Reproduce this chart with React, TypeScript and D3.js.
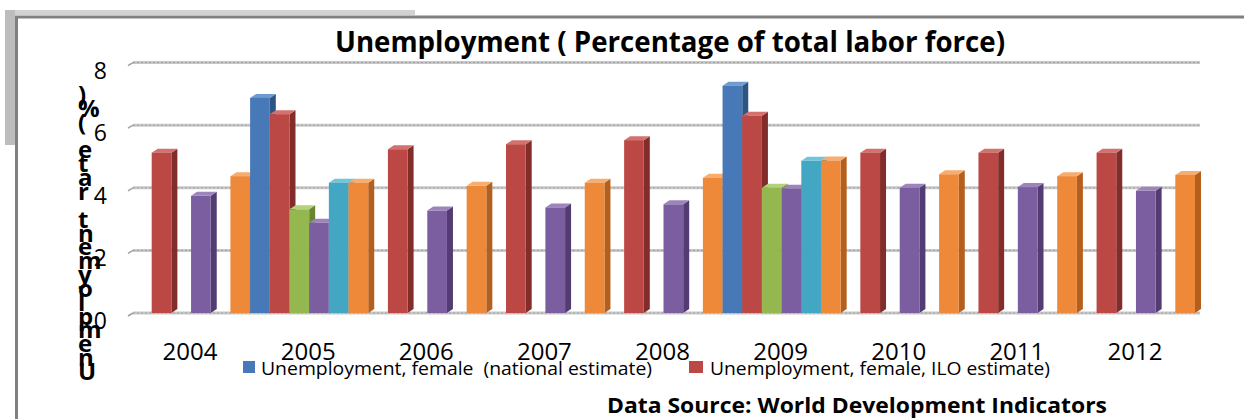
import React from 'react';
import * as d3 from 'd3';

const years = ['2004', '2005', '2006', '2007', '2008', '2009', '2010', '2011', '2012'];
const seriesKeys = ['femaleNational', 'femaleILO', 'maleNational', 'maleILO', 'totalNational', 'totalILO'];
const femaleNational = [null, 7.0, null, null, null, 7.39, null, null, null];
const femaleILO = [5.25, 6.48, 5.36, 5.52, 5.65, 6.43, 5.25, 5.25, 5.25];
const maleNational = [null, 3.44, null, null, null, 4.13, null, null, null];
const maleILO = [3.87, 3.01, 3.4, 3.5, 3.6, 4.1, 4.13, 4.15, 4.03];
const totalNational = [null, 4.29, null, null, null, 4.99, null, null, null];
const totalILO = [4.5, 4.29, 4.19, 4.29, 4.45, 5.0, 4.56, 4.5, 4.54];
const yTicks = [0, 2, 4, 6, 8];
const legendItems = [
  { label: 'Unemployment, female  (national estimate)', key: 'femaleNational' },
  { label: 'Unemployment, female, ILO estimate)', key: 'femaleILO' },
];
const titleText = 'Unemployment ( Percentage of total labor force)';
const yTitle = 'Unemployment rate (%)';
const sourceText = 'Data Source: World Development Indicators';

const seriesValues: Record<string, (number | null)[]> = {
  femaleNational, femaleILO, maleNational, maleILO, totalNational, totalILO,
};
const colors: Record<string, { front: string; side: string; top: string }> = {
  femaleNational: { front: '#4779b8', side: '#2c5585', top: '#6f9bd0' },
  femaleILO: { front: '#bb4845', side: '#832d2b', top: '#d4706d' },
  maleNational: { front: '#94b750', side: '#678632', top: '#b3d17a' },
  maleILO: { front: '#7b5e9f', side: '#533c72', top: '#9d84bd' },
  totalNational: { front: '#43a7c3', side: '#2a7a91', top: '#72c4da' },
  totalILO: { front: '#ee893a', side: '#b45f1e', top: '#f7ad6e' },
};

const FONT = '"Open Sans", "Liberation Sans", sans-serif';

export default function App() {
  const W = 1244, H = 419;
  const x0 = d3.scaleBand<string>().domain(years).range([132, 1195]).paddingInner(0).paddingOuter(0);
  const x1 = d3.scaleBand<string>().domain(seriesKeys).range([0, x0.bandwidth()]).padding(0);
  const y = d3.scaleLinear().domain([0, 8]).range([313, 62.6]);
  const dx = 6, dy = 4;
  const gridX0 = 133, gridX1 = 1200;

  const bars: JSX.Element[] = [];
  years.forEach((yr, i) => {
    seriesKeys.forEach((k) => {
      const v = seriesValues[k][i];
      if (v == null) return;
      const bx = (x0(yr) as number) + (x1(k) as number);
      const w = x1.bandwidth();
      const yt = y(v) + dy;
      const yb = y(0);
      const c = colors[k];
      bars.push(
        <g key={`${yr}-${k}`}>
          <polygon points={`${bx + w},${yt} ${bx + w + dx},${yt - dy} ${bx + w + dx},${yb - dy} ${bx + w},${yb}`} fill={c.side} />
          <polygon points={`${bx},${yt} ${bx + dx},${yt - dy} ${bx + w + dx},${yt - dy} ${bx + w},${yt}`} fill={c.top} />
          <rect x={bx} y={yt} width={w} height={yb - yt} fill={c.front} />
        </g>
      );
    });
  });

  const titleChars = yTitle.split('');
  const step = (380 - 103) / (titleChars.length - 1);

  return (
    <svg width={W} height={H} style={{ position: 'absolute', left: 0, top: 0, background: '#fff' }} fontFamily={FONT}>
      <rect x={0} y={0} width={W} height={H} fill="#fff" />
      {/* shadow frame */}
      <rect x={5} y={10} width={410} height={5} fill="#d2d2d2" />
      <rect x={5} y={10} width={10} height={135} fill="#bdbdbd" />
      {/* chart border */}
      <line x1={16.5} y1={16} x2={16.5} y2={H} stroke="#808080" strokeWidth={3} />
      <line x1={15} y1={17} x2={W} y2={17} stroke="#808080" strokeWidth={3} />

      {/* title */}
      <text x={335} y={52} fontSize={29} fontWeight="bold" textLength={670} lengthAdjust="spacingAndGlyphs" fill="#000">{titleText}</text>

      {/* gridlines */}
      {yTicks.map((t) => (
        <g key={t}>
          <line x1={gridX0} y1={y(t)} x2={gridX1} y2={y(t)} stroke="#c8c8c8" strokeWidth={3} />
          <line x1={gridX0} y1={y(t)} x2={gridX1} y2={y(t)} stroke="#a0a0a0" strokeWidth={1} strokeDasharray="2,2" />
          <line x1={128} y1={y(t) + 3} x2={gridX0} y2={y(t)} stroke="#a0a0a0" strokeWidth={1.5} />
        </g>
      ))}

      {bars}

      {/* y tick labels */}
      {yTicks.map((t) => (
        <text key={t} x={107} y={y(t) + 16} fontSize={23} textAnchor="end" fill="#000">{t}</text>
      ))}

      {/* stacked y title, bottom to top */}
      {titleChars.map((ch, i) => (
        <text key={i} x={78} y={380 - i * step} fontSize={24} fontWeight="bold" fill="#000" style={{ whiteSpace: 'pre' }}>{ch}</text>
      ))}

      {/* x labels */}
      {years.map((yr) => (
        <text key={yr} x={(x0(yr) as number) + x0.bandwidth() / 2 - 1} y={360} fontSize={24} textAnchor="middle" fill="#000">{yr}</text>
      ))}

      {/* legend */}
      <rect x={243} y={361} width={12} height={12} fill={colors[legendItems[0].key].front} />
      <text x={261} y={375} fontSize={18} textLength={391} lengthAdjust="spacingAndGlyphs" style={{ whiteSpace: 'pre' }} fill="#000">{legendItems[0].label}</text>
      <rect x={689} y={361} width={14} height={12} fill={colors[legendItems[1].key].front} />
      <text x={710} y={375} fontSize={18} textLength={340} lengthAdjust="spacingAndGlyphs" style={{ whiteSpace: 'pre' }} fill="#000">{legendItems[1].label}</text>

      {/* source */}
      <text x={607} y={413} fontSize={21} fontWeight="bold" textLength={500} lengthAdjust="spacingAndGlyphs" fill="#000">{sourceText}</text>
    </svg>
  );
}
